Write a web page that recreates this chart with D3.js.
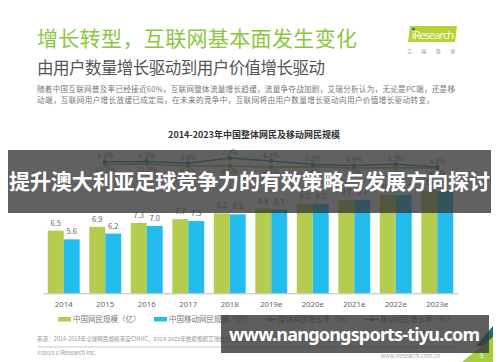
<!DOCTYPE html>
<html><head><meta charset="utf-8">
<script src="https://cdn.jsdelivr.net/npm/d3@7"></script>
<style>
html,body{margin:0;padding:0;background:#fff;}
svg{display:block;font-family:"Noto Sans CJK SC","Noto Sans",sans-serif;}
</style></head>
<body><svg id="c" width="500" height="362"></svg>
<script>
// ---- data ----
const categories = ["2014","2015","2016","2017","2018","2019e","2020e","2021e","2022e","2023e"];
const totalUsers = [6.5, 6.9, 7.3, 7.7, 8.3, 8.8, 9.3, 9.7, 10.2, 10.7];
const mobileUsers = [5.6, 6.2, 7.0, 7.5, 8.2, 8.7, 9.3, 9.7, 10.2, 10.6];
const growthYears = ["2015","2016","2017","2018","2019e","2020e","2021e","2022e","2023e"];
const totalGrowth = [6.1, 6.2, 5.6, 7.3, 6.3, 5.2, 4.9, 5.3, 4.4];
const mobileGrowth = [11.3, 12.2, 8.2, 8.5, 6.5, 6.9, 4.5, 4.7, 4.4];
const seriesNames = ["中国网民规模（亿）","中国移动网民规模（亿）","整体网民增长率（%）","移动网民增长率（%）"];

const svg = d3.select("#c");
const GREEN = "#b5cd4f", BLUE = "#22bdec", TEAL = "#2196a6", OLIVE = "#a3b23a";

// header
svg.append("text").attr("x",37).attr("y",46).attr("font-size",21).attr("fill","#8cc641")
  .attr("textLength",320).text("增长转型，互联网基本面发生变化");
svg.append("text").attr("x",37).attr("y",74).attr("font-size",16.5).attr("fill","#555")
  .attr("textLength",288).text("由用户数量增长驱动到用户价值增长驱动");
svg.append("text").attr("x",37).attr("y",92).attr("font-size",7.6).attr("fill","#777")
  .attr("textLength",418).text("随着中国互联网普及率已经接近60%，互联网整体流量增长趋缓，流量争夺战加剧，艾瑞分析认为，无论是PC端，还是移");
svg.append("text").attr("x",37).attr("y",103).attr("font-size",7.6).attr("fill","#777")
  .attr("textLength",397).text("动端，互联网用户增长放缓已成定局，在未来的竞争中，互联网将由用户数量增长驱动向用户价值增长驱动转变。");

// logo
svg.append("polygon").attr("points","410,26 457,26 455,42 408,42").attr("fill","#b5d334");
svg.append("text").attr("x",412).attr("y",39).attr("font-size",11).attr("fill","#fff")
  .attr("font-family","Open Sans, sans-serif").attr("textLength",42).text("iResearch");
svg.append("circle").attr("cx",413.5).attr("cy",29).attr("r",1.3).attr("fill","#1a5aa6");
svg.append("text").attr("x",407).attr("y",53).attr("font-size",5).attr("fill","#888")
  .attr("textLength",48).text("艾 瑞 咨 询");

// chart title
svg.append("text").attr("x",254).attr("y",138).attr("text-anchor","middle").attr("font-size",9)
  .attr("font-weight","bold").attr("fill","#333").text("2014-2023年中国整体网民及移动网民规模");

// scales
const x0 = d3.scaleBand().domain(categories).range([43,458]).padding(0);
const x1 = d3.scaleBand().domain(["t","m"]).range([0,x0.bandwidth()]).paddingInner(0).paddingOuter(0.3);
const y = d3.scaleLinear().domain([0,10]).range([293.3,197]);
const yT = d3.scaleLinear().domain([4.4,7.3]).range([167,158]);
const yO = d3.scaleLinear().domain([4.4,12.2]).range([168,164]);

// bars
const g = svg.append("g");
categories.forEach((c,i)=>{
  [["t",totalUsers[i],GREEN],["m",mobileUsers[i],BLUE]].forEach(([k,v,col])=>{
    const bx = x0(c)+x1(k);
    g.append("rect").attr("x",bx).attr("y",y(v)).attr("width",x1.bandwidth())
      .attr("height",y(0)-y(v)).attr("fill",col);
    g.append("text").attr("x",bx+x1.bandwidth()/2).attr("y",y(v)-5).attr("text-anchor","middle")
      .attr("font-size",7.5).attr("fill","#666").text(v.toFixed(1));
  });
});

// x axis
const ax = svg.append("g").attr("transform","translate(0,293.3)")
  .call(d3.axisBottom(x0).tickSize(0).tickPadding(8));
ax.select(".domain").attr("stroke","#bbb");
ax.selectAll("text").attr("font-size",7.8).attr("fill","#666").attr("font-family","Noto Sans, sans-serif");

// lines
const cx = d => x0(d)+x0.bandwidth()/2;
const lineT = d3.line().x((d,i)=>cx(growthYears[i])).y(d=>yT(d));
const lineO = d3.line().x((d,i)=>cx(growthYears[i])).y(d=>yO(d));
svg.append("path").datum(mobileGrowth).attr("d",lineO).attr("fill","none").attr("stroke",OLIVE).attr("stroke-width",1.5);
svg.append("path").datum(totalGrowth).attr("d",lineT).attr("fill","none").attr("stroke",TEAL).attr("stroke-width",1.5);
mobileGrowth.forEach((v,i)=>{
  svg.append("circle").attr("cx",cx(growthYears[i])).attr("cy",yO(v)).attr("r",2.3).attr("fill",OLIVE);
  svg.append("text").attr("x",cx(growthYears[i])).attr("y",yO(v)+8).attr("text-anchor","middle")
    .attr("font-size",7).attr("fill","#777").text(v.toFixed(1)+"%");
});
totalGrowth.forEach((v,i)=>{
  svg.append("circle").attr("cx",cx(growthYears[i])).attr("cy",yT(v)).attr("r",2.3).attr("fill",TEAL);
  svg.append("text").attr("x",cx(growthYears[i])).attr("y",yT(v)-3.5).attr("text-anchor","middle")
    .attr("font-size",7).attr("fill","#777").text(v.toFixed(1)+"%");
});

// legend
const lg = svg.append("g").attr("font-size",7.5).attr("fill","#777");
const legendX = [58,154,263,365];
seriesNames.forEach((n,i)=>{
  const lx = legendX[i];
  if(i<2){
    lg.append("rect").attr("x",lx).attr("y",317).attr("width",13).attr("height",4.5).attr("fill",i===0?GREEN:BLUE);
  } else {
    const col = i===2?OLIVE:TEAL;
    lg.append("line").attr("x1",lx).attr("x2",lx+14).attr("y1",319.5).attr("y2",319.5).attr("stroke",col).attr("stroke-width",1.4);
    lg.append("circle").attr("cx",lx+7).attr("cy",319.5).attr("r",2).attr("fill",col);
  }
  lg.append("text").attr("x",lx+15).attr("y",322.3).attr("fill","#777").text(n);
});

// footer
svg.append("text").attr("x",37).attr("y",341).attr("font-size",5.6).attr("fill","#999")
  .text("来源：2014-2018年全球网民规模来自CNNIC，2019-2023年数据根据艾瑞统计模型核算。");
svg.append("line").attr("x1",37).attr("x2",460).attr("y1",347).attr("y2",347).attr("stroke","#bbb").attr("stroke-width",0.8);
svg.append("text").attr("x",37).attr("y",355).attr("font-size",5.6).attr("fill","#999").text("©2019.6 iResearch Inc.");
svg.append("text").attr("x",440).attr("y",358).attr("text-anchor","end").attr("font-size",5.6).attr("fill","#aaa").text("www.iresearch.com.cn");
svg.append("polygon").attr("points","476,346 493,326 493,346").attr("fill","#1f6c7e");
svg.append("polygon").attr("points","462,362 493,337 493,362").attr("fill","#a6ce39");
svg.append("text").attr("x",480).attr("y",358).attr("font-size",6).attr("fill","#fff").text("5");

// overlay band 1
svg.append("rect").attr("x",8).attr("y",150).attr("width",483).attr("height",63)
  .attr("fill","#3a3a3a").attr("opacity",0.8);
svg.append("text").attr("x",9).attr("y",189).attr("font-size",21).attr("font-weight","bold")
  .attr("fill","#fff").attr("textLength",481).text("提升澳大利亚足球竞争力的有效策略与发展方向探讨");

// overlay band 2
svg.append("rect").attr("x",221).attr("y",315).attr("width",268).attr("height",38)
  .attr("fill","#3a3a3a").attr("opacity",0.82);
svg.append("text").attr("x",229).attr("y",341).attr("font-size",18).attr("font-weight","bold")
  .attr("font-family","Noto Sans, DejaVu Sans, sans-serif")
  .attr("fill","#fff").attr("textLength",251).text("www.nangongsports-tiyu.com");
</script></body></html>
